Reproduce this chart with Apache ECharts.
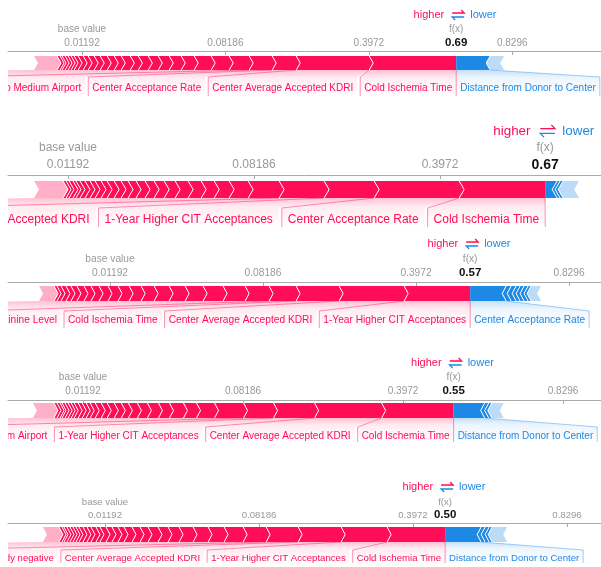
<!DOCTYPE html>
<html>
<head>
<meta charset="utf-8">
<script src="https://cdn.jsdelivr.net/npm/echarts@6/dist/echarts.min.js"></script>
<style>
  html, body { margin: 0; padding: 0; background: #fff; }
  #chart { width: 601px; height: 567px; }
</style>
</head>
<body>
<div id="chart"></div>
<script>
// five SHAP force plots (logit link), effects in log-odds units
const baseValue = 0.01192;
const tickLabels = [0.01192, 0.08186, 0.3972, 0.8296];

// red effects, ordered from f(x) outwards; the faded remainder is kept apart
const posEffects = [
  [1.213, 1.018, 0.335, 0.321, 0.279, 0.251, 0.237, 0.181, 0.167, 0.153, 0.139, 0.139, 0.112, 0.126, 0.098, 0.098, 0.098, 0.084, 0.084, 0.070, 0.070, 0.056, 0.042, 0.042, 0.042, 0.042, 0.028, 0.042],
  [0.925, 0.914, 0.538, 0.484, 0.333, 0.204, 0.161, 0.140, 0.140, 0.140, 0.118, 0.108, 0.097, 0.097, 0.086, 0.075, 0.075, 0.075, 0.065, 0.065, 0.054, 0.054, 0.054, 0.043, 0.032, 0.043, 0.032, 0.032],
  [0.863, 0.850, 0.562, 0.353, 0.314, 0.288, 0.261, 0.235, 0.209, 0.196, 0.170, 0.157, 0.144, 0.131, 0.118, 0.105, 0.092, 0.092, 0.078, 0.065, 0.065, 0.052, 0.039],
  [0.900, 0.838, 0.513, 0.375, 0.363, 0.225, 0.163, 0.175, 0.138, 0.138, 0.125, 0.113, 0.088, 0.088, 0.088, 0.075, 0.075, 0.063, 0.050, 0.050, 0.050, 0.050, 0.038, 0.038, 0.038, 0.038, 0.025, 0.038, 0.038],
  [0.753, 0.597, 0.558, 0.416, 0.299, 0.247, 0.208, 0.195, 0.182, 0.143, 0.130, 0.130, 0.104, 0.104, 0.104, 0.078, 0.078, 0.078, 0.078, 0.052, 0.065, 0.052, 0.052, 0.052, 0.039, 0.039, 0.039, 0.039, 0.039, 0.026, 0.039]
];
const posRest = [0.321, 0.312, 0.196, 0.263, 0.208];
const posNames = [
  ['Cold Ischemia Time', 'Center Average Accepted KDRI', 'Center Acceptance Rate', 'Distance to Medium Airport'],
  ['Cold Ischemia Time', 'Center Acceptance Rate', '1-Year Higher CIT Acceptances', 'Center Average Accepted KDRI'],
  ['1-Year Higher CIT Acceptances', 'Center Average Accepted KDRI', 'Cold Ischemia Time', 'Creatinine Level'],
  ['Cold Ischemia Time', 'Center Average Accepted KDRI', '1-Year Higher CIT Acceptances', 'Distance to Medium Airport'],
  ['Cold Ischemia Time', '1-Year Higher CIT Acceptances', 'Center Average Accepted KDRI', 'HBV Core Antibody negative']
];

// blue effects, ordered from f(x) outwards
const negEffects = [
  [0.474],
  [0.129, 0.032, 0.032],
  [0.471, 0.065, 0.065, 0.052, 0.052, 0.052, 0.039],
  [0.388, 0.050, 0.038],
  [0.468, 0.052, 0.052, 0.039]
];
const negRest = [0.195, 0.172, 0.131, 0.150, 0.195];
const negNames = [
  ['Distance from Donor to Center'],
  [],
  ['Center Acceptance Rate'],
  ['Distance from Donor to Center'],
  ['Distance from Donor to Center']
];

const RED = '#ff0d57';
const BLUE = '#1e88e5';
const FONT = '"Liberation Sans", Arial, sans-serif';

const logit = p => Math.log(p / (1 - p));
const sigmoid = z => 1 / (1 + Math.exp(-z));
const sum = arr => arr.reduce((a, b) => a + b, 0);
const baseLogit = logit(baseValue);
const fxLogit = posEffects.map((arr, i) =>
  baseLogit + sum(arr) + posRest[i] - sum(negEffects[i]) - negRest[i]);
const tickPos = tickLabels.map(logit);

// pixel layout of each panel (x0 = pixel of base value, k = px per log-odds unit)
const layout = [
  {axisY: 51, x0: 82, k: 71.7, s: 1, gap: 5, barH: 14, tip: 4, boxTop: 7, boxBot: 26, textY: 18, pad: 4, font: 10, margin: 3, head: -36, fLab: -22, fxLab: -8},
  {axisY: 175, x0: 68, k: 93, s: 1.22, gap: 6, barH: 17, tip: 5, boxTop: 10, boxBot: 29, textY: 22, pad: 6, font: 12, margin: 4, head: -44, fLab: -27, fxLab: -10},
  {axisY: 282, x0: 110, k: 76.5, s: 1, gap: 4, barH: 15, tip: 4, boxTop: 10, boxBot: 27, textY: 19, pad: 4, font: 10.2, margin: 4, head: -38, fLab: -23, fxLab: -9},
  {axisY: 400, x0: 83, k: 80, s: 1, gap: 3, barH: 15, tip: 4, boxTop: 9, boxBot: 24, textY: 18, pad: 4, font: 10, margin: 4, head: -37, fLab: -23, fxLab: -9},
  {axisY: 523, x0: 105, k: 77, s: 1, gap: 4, barH: 15, tip: 4, boxTop: 8, boxBot: 21, textY: 16, pad: 4, font: 9.6, margin: 3, head: -36, fLab: -21, fxLab: -8}
];
const BOX_GAP = 3;

const measure = document.createElement('canvas').getContext('2d');
function textW(str, size) {
  measure.font = size + 'px ' + FONT;
  return measure.measureText(str).width;
}

function poly(points, fill) {
  return {type: 'polygon', shape: {points: points}, style: {fill: fill}};
}
function line(points, stroke, width) {
  return {type: 'polyline', shape: {points: points}, style: {stroke: stroke, lineWidth: width, fill: null}};
}
function txt(str, x, y, color, size, align, weight) {
  return {
    type: 'text', x: x, y: y,
    style: {text: str, fill: color, fontSize: size, fontFamily: FONT, fontWeight: weight || 'normal',
      align: align || 'left', verticalAlign: 'middle'}
  };
}
function fade(r, g, b) {
  return new echarts.graphic.LinearGradient(0, 0, 0, 1, [
    {offset: 0, color: 'rgba(' + r + ',' + g + ',' + b + ',0.26)'},
    {offset: 0.3, color: 'rgba(' + r + ',' + g + ',' + b + ',0.08)'},
    {offset: 1, color: 'rgba(' + r + ',' + g + ',' + b + ',0)'}
  ]);
}

// bar, label backings and labels of one panel
function renderBody(p) {
  const L = layout[p];
  return function (params, api) {
    const X = v => api.coord([v, 0.5])[0];
    const y0 = params.coordSys.y;
    const top = y0 + L.gap, bot = top + L.barH, mid = top + L.barH / 2;
    const bTop = bot + L.boxTop, bBot = bot + L.boxBot;
    const tip = L.tip;
    const fx = X(fxLogit[p]);
    const back = [], bars = [], lines = [], texts = [];

    // red side
    const rEdge = [fx];
    let acc = fxLogit[p];
    posEffects[p].forEach(v => { acc -= v; rEdge.push(X(acc)); });
    const rTail = X(acc - posRest[p]);
    const rLast = rEdge[rEdge.length - 1];
    bars.push(poly([[rTail, top], [rLast, top], [rLast + tip, mid], [rLast, bot], [rTail, bot], [rTail + tip, mid]], 'rgba(255,13,87,0.33)'));
    for (let i = rEdge.length - 2; i >= 0; i--) {
      const r = rEdge[i], l = rEdge[i + 1];
      bars.push(poly(i === 0
        ? [[l, top], [r, top], [r, bot], [l, bot], [l + tip, mid]]
        : [[l, top], [r, top], [r + tip, mid], [r, bot], [l, bot], [l + tip, mid]], RED));
    }
    for (let i = 1; i < rEdge.length; i++) {
      lines.push(line([[rEdge[i], top], [rEdge[i] + tip, mid], [rEdge[i], bot]], '#fff', 1));
    }
    let prev = fx;
    posNames[p].forEach((name, j) => {
      const segR = rEdge[j], segL = rEdge[j + 1];
      const bw = textW(name, L.font) + 2 * L.pad;
      const bR = Math.min((segL + segR) / 2 + bw / 2, j === 0 ? prev : prev - BOX_GAP);
      const bL = bR - bw;
      prev = bL;
      back.push(poly([[segL, bot], [segR, bot], [bR, bTop], [bR, bBot], [bL, bBot], [bL, bTop]], fade(255, 13, 87)));
      lines.push(line([[segL, bot], [bL, bTop], [bL, bBot]], 'rgba(255,13,87,0.45)', 1));
      texts.push(txt(name, bL + L.pad, bot + L.textY, RED, L.font));
    });
    const lastSeg = rEdge[posNames[p].length];
    back.push(poly([[rTail, bot], [lastSeg, bot], [prev, bTop], [prev, bBot], [-600, bBot], [-600, bTop]], fade(255, 13, 87)));
    lines.push(line([[fx, bot], [fx, bBot]], 'rgba(255,13,87,0.45)', 1));

    // blue side
    const bEdge = [fx];
    acc = fxLogit[p];
    negEffects[p].forEach(v => { acc += v; bEdge.push(X(acc)); });
    const bTail = X(acc + negRest[p]);
    const bLast = bEdge[bEdge.length - 1];
    bars.push(poly([[bLast, top], [bTail, top], [bTail - tip, mid], [bTail, bot], [bLast, bot], [bLast - tip, mid]], 'rgba(30,136,229,0.3)'));
    for (let i = bEdge.length - 2; i >= 0; i--) {
      const l = bEdge[i], r = bEdge[i + 1];
      bars.push(poly(i === 0
        ? [[l, top], [r, top], [r - tip, mid], [r, bot], [l, bot]]
        : [[l, top], [r, top], [r - tip, mid], [r, bot], [l, bot], [l - tip, mid]], BLUE));
    }
    for (let i = 1; i < bEdge.length; i++) {
      lines.push(line([[bEdge[i], top], [bEdge[i] - tip, mid], [bEdge[i], bot]], '#fff', 1));
    }
    prev = fx;
    negNames[p].forEach((name, j) => {
      const segL = bEdge[j], segR = bEdge[j + 1];
      const bw = textW(name, L.font) + 2 * L.pad;
      const bL = Math.max((segL + segR) / 2 - bw / 2, prev);
      const bR = bL + bw;
      prev = bR;
      back.push(poly([[segL, bot], [segR, bot], [bR, bTop], [bR, bBot], [bL, bBot], [bL, bTop]], fade(30, 136, 229)));
      lines.push(line([[segR, bot], [bR, bTop], [bR, bBot]], 'rgba(30,136,229,0.4)', 1));
      texts.push(txt(name, bL + L.pad, bot + L.textY, BLUE, L.font));
    });

    return {type: 'group', children: back.concat(bars, lines, texts)};
  };
}

// "higher / lower", f(x) and base value texts above the axis
function renderHead(p) {
  const L = layout[p];
  return function (params, api) {
    const X = v => api.coord([v, 0.5])[0];
    const y0 = params.coordSys.y;
    const fx = X(fxLogit[p]), bx = X(baseLogit), s = L.s;
    const hy = y0 + L.head;
    return {
      type: 'group',
      children: [
        txt('higher', fx - 12 * s, hy, RED, 11 * s, 'right'),
        txt('lower', fx + 14 * s, hy, BLUE, 11 * s, 'left'),
        line([[fx - 4 * s, hy - 2 * s], [fx + 8 * s, hy - 2 * s], [fx + 5 * s, hy - 5 * s]], RED, 1.3),
        line([[fx + 8 * s, hy + 2 * s], [fx - 4 * s, hy + 2 * s], [fx - 1 * s, hy + 5 * s]], BLUE, 1.3),
        txt('f(x)', fx, y0 + L.fLab, '#999', L.font, 'center'),
        txt(sigmoid(fxLogit[p]).toFixed(2), fx, y0 + L.fxLab, '#111', 11.5 * s, 'center', 'bold'),
        txt('base value', bx, y0 + L.fLab, '#999', L.font, 'center')
      ]
    };
  };
}

const grids = [], xAxes = [], yAxes = [], series = [];
layout.forEach((L, p) => {
  const min = baseLogit - (L.x0 - 8) / L.k;
  const max = baseLogit + (601 - L.x0) / L.k;
  const ticks = tickPos.filter(v => v > min && v < max);
  grids.push({left: 8, right: 0, top: L.axisY, height: L.gap + L.barH + L.boxBot + 2, outerBoundsMode: 'none'});
  xAxes.push({
    gridIndex: p, type: 'value', position: 'top', min: min, max: max,
    axisLine: {onZero: false, lineStyle: {color: '#aaa', width: 1}},
    axisTick: {inside: true, length: 4, customValues: ticks, lineStyle: {color: '#aaa'}},
    axisLabel: {
      customValues: ticks, margin: L.margin, color: '#999', fontSize: L.font, fontFamily: FONT,
      formatter: v => {
        let best = 0;
        tickPos.forEach((t, i) => { if (Math.abs(t - v) < Math.abs(tickPos[best] - v)) best = i; });
        return String(tickLabels[best]);
      }
    },
    splitLine: {show: false}
  });
  yAxes.push({gridIndex: p, type: 'value', min: 0, max: 1, show: false});
  series.push({
    type: 'custom', xAxisIndex: p, yAxisIndex: p, clip: true, silent: true,
    data: [[0, 0.5]], renderItem: renderBody(p)
  });
  series.push({
    type: 'custom', xAxisIndex: p, yAxisIndex: p, clip: false, silent: true,
    data: [[0, 0.5]], renderItem: renderHead(p)
  });
});

const chart = echarts.init(document.getElementById('chart'));
chart.setOption({
  animation: false,
  backgroundColor: '#fff',
  grid: grids,
  xAxis: xAxes,
  yAxis: yAxes,
  series: series
});
</script>
</body>
</html>
